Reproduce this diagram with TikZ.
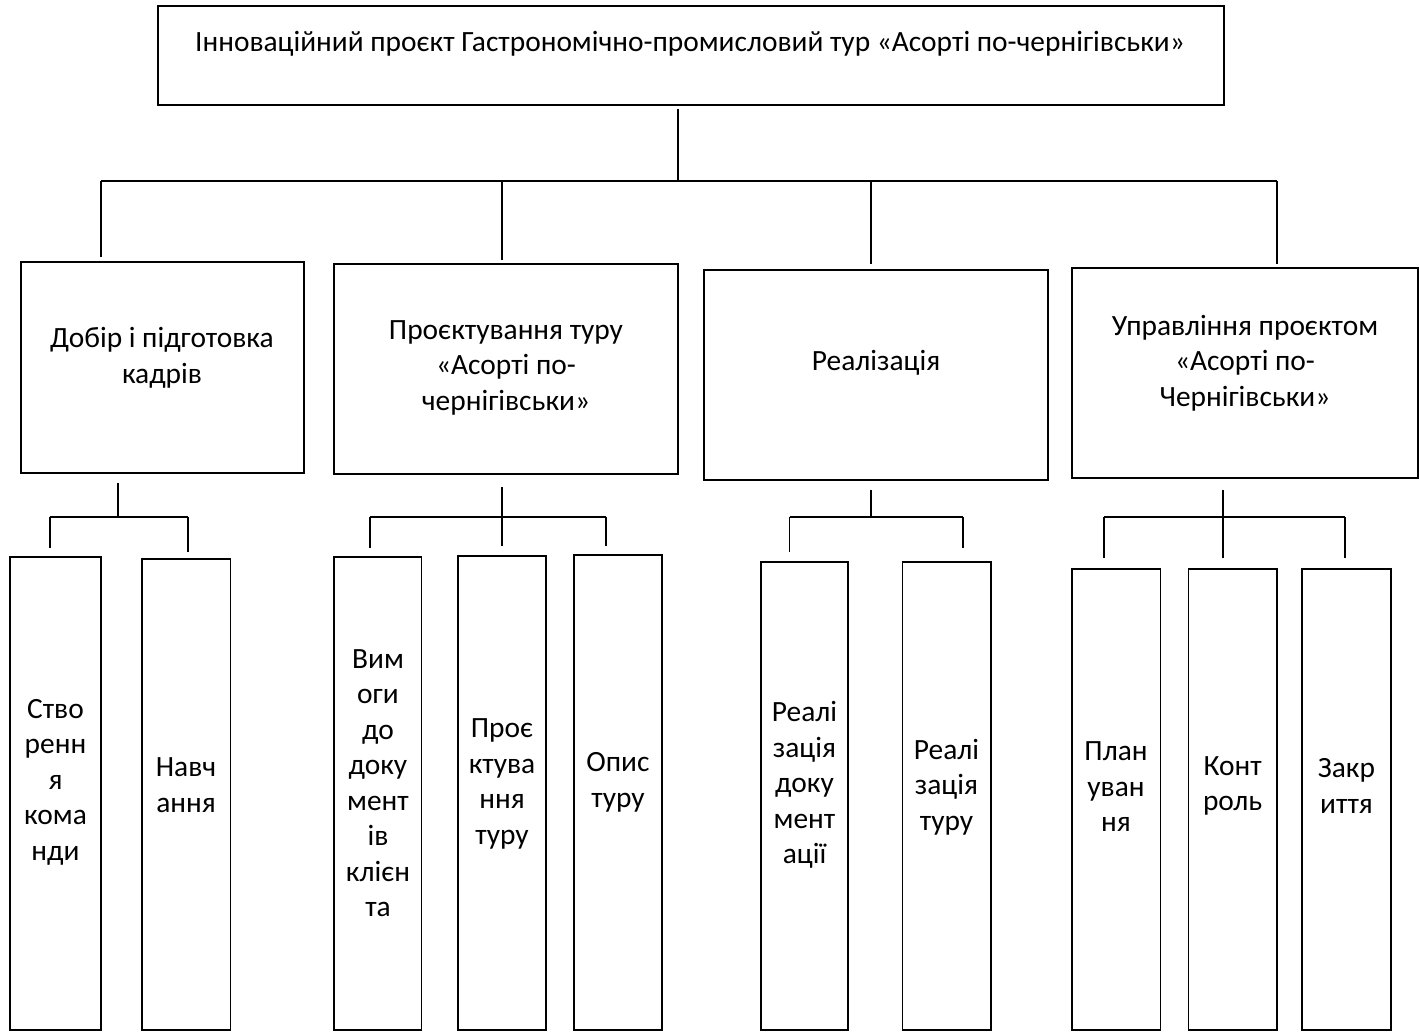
\documentclass[tikz,border=0pt]{standalone}
\usepackage{fontspec}
\setmainfont{Carlito}
\begin{document}
\begin{tikzpicture}[x=1pt,y=-1pt,
  box/.style={draw, line width=1.8pt, inner sep=0pt, rectangle},
  conn/.style={line width=1.8pt},
  txt/.style={font=\fontsize{29.4}{35.5}\selectfont, align=center, inner sep=0pt}]
\useasboundingbox (0,0) rectangle (1419,1032);
\fill[white] (0,0) rectangle (1419,1032);

% top box
\node[box, minimum width=1066pt, minimum height=99pt] (top) at (691,55.5) {};
\node[txt] (ttop) at (690,44) {Інноваційний проєкт Гастрономічно-промисловий тур «Асорті по-чернігівськи»};

% level 1
\node[box, minimum width=283.3pt, minimum height=211pt] (b1) at (162.35,367.5) {};
\node[box, minimum width=344pt, minimum height=210pt] (b2) at (506,369) {};
\node[box, minimum width=344.3pt, minimum height=210pt] (b3) at (875.85,375) {};
\node[box, minimum width=345.6pt, minimum height=210pt] (b4) at (1244.8,373) {};
\node[txt] (tb1) at (162,358) {Добір і підготовка\\кадрів};
\node[txt] (tb2) at (506,367.5) {Проєктування туру\\«Асорті по-\\чернігівськи»};
\node[txt] (tb3) at (876,363) {Реалізація};
\node[txt] (tb4) at (1245,363) {Управління проєктом\\«Асорті по-\\Чернігівськи»};

% level 2
\node[box, minimum width=91pt, minimum height=473pt] (c1a) at (55.5,793.5) {};
\node[box, minimum width=88.5pt, minimum height=471pt] (c1b) at (186.25,794.5) {};
\node[box, minimum width=87.5pt, minimum height=473pt] (c2a) at (377.75,793.5) {};
\node[box, minimum width=88.2pt, minimum height=474pt] (c2b) at (501.9,793) {};
\node[box, minimum width=88pt, minimum height=475pt] (c2c) at (618,792.5) {};
\node[box, minimum width=87.7pt, minimum height=468pt] (c3a) at (804.45,796) {};
\node[box, minimum width=88.1pt, minimum height=468pt] (c3b) at (946.55,796) {};
\node[box, minimum width=88.5pt, minimum height=461.3pt] (c4a) at (1116.25,799.35) {};
\node[box, minimum width=88.2pt, minimum height=461.3pt] (c4b) at (1232.6,799.35) {};
\node[box, minimum width=89pt, minimum height=461.3pt] (c4c) at (1346.5,799.35) {};

\node[txt] at (55.5,782) {Ство\\ренн\\я\\кома\\нди};
\node[txt] at (186,785) {Навч\\ання};
\node[txt] at (378,783) {Вим\\оги\\до\\доку\\мент\\ів\\клієн\\та};
\node[txt] at (502,784) {Проє\\ктува\\ння\\туру};
\node[txt] at (618,782.5) {Опис\\туру};
\node[txt] at (804.5,785) {Реалі\\зація\\доку\\мент\\ації};
\node[txt] at (946.5,787) {Реалі\\зація\\туру};
\node[txt] at (1116,787) {План\\уван\\ня};
\node[txt] at (1232.6,786) {Конт\\роль};
\node[txt] at (1346.5,786) {Закр\\иття};

% main connectors
\coordinate (m) at (678,181);
\coordinate (d1) at (101,181);
\coordinate (d2) at (502,181);
\coordinate (d3) at (871,181);
\coordinate (d4) at (1277,181);
\draw[conn] ([yshift=-3pt]top.south -| m) -- (m);
\draw[conn] (d1) -- (d4);
\draw[conn] (d1) -- ([yshift=4pt]b1.north -| d1);
\draw[conn] (d2) -- ([yshift=3pt]b2.north -| d2);
\draw[conn] (d3) -- ([yshift=5pt]b3.north -| d3);
\draw[conn] (d4) -- ([yshift=3pt]b4.north -| d4);

% group 1
\coordinate (g1) at (118,517);
\coordinate (s1a) at (49.6,517);
\coordinate (s1b) at (188,517);
\draw[conn] ([yshift=-9pt]b1.south -| g1) -- (g1);
\draw[conn] (s1a) -- (s1b);
\draw[conn] (s1a) -- ([yshift=8pt]c1a.north -| s1a);
\draw[conn] (s1b) -- ([yshift=6pt]c1b.north -| s1b);

% group 2
\coordinate (g2) at (502,517);
\coordinate (s2a) at (370,517);
\coordinate (s2c) at (606,517);
\draw[conn] ([yshift=-12pt]b2.south -| g2) -- ([yshift=9pt]c2b.north -| g2);
\draw[conn] (s2a) -- (s2c);
\draw[conn] (s2a) -- ([yshift=8pt]c2a.north -| s2a);
\draw[conn] (s2c) -- ([yshift=8pt]c2c.north -| s2c);

% group 3
\coordinate (g3) at (871,517);
\coordinate (s3a) at (789.5,517);
\coordinate (s3b) at (962.6,517);
\draw[conn] ([yshift=-9pt]b3.south -| g3) -- (g3);
\draw[conn] (s3a) -- (s3b);
\draw[conn] (s3a) -- ([yshift=9pt]c3a.north -| s3a);
\draw[conn] (s3b) -- ([yshift=13pt]c3b.north -| s3b);

% group 4
\coordinate (g4) at (1223,517);
\coordinate (s4a) at (1104,517);
\coordinate (s4c) at (1345,517);
\draw[conn] ([yshift=-11pt]b4.south -| g4) -- ([yshift=10pt]c4b.north -| g4);
\draw[conn] (s4a) -- (s4c);
\draw[conn] (s4a) -- ([yshift=10pt]c4a.north -| s4a);
\draw[conn] (s4c) -- ([yshift=10pt]c4c.north -| s4c);
\end{tikzpicture}
\end{document}
